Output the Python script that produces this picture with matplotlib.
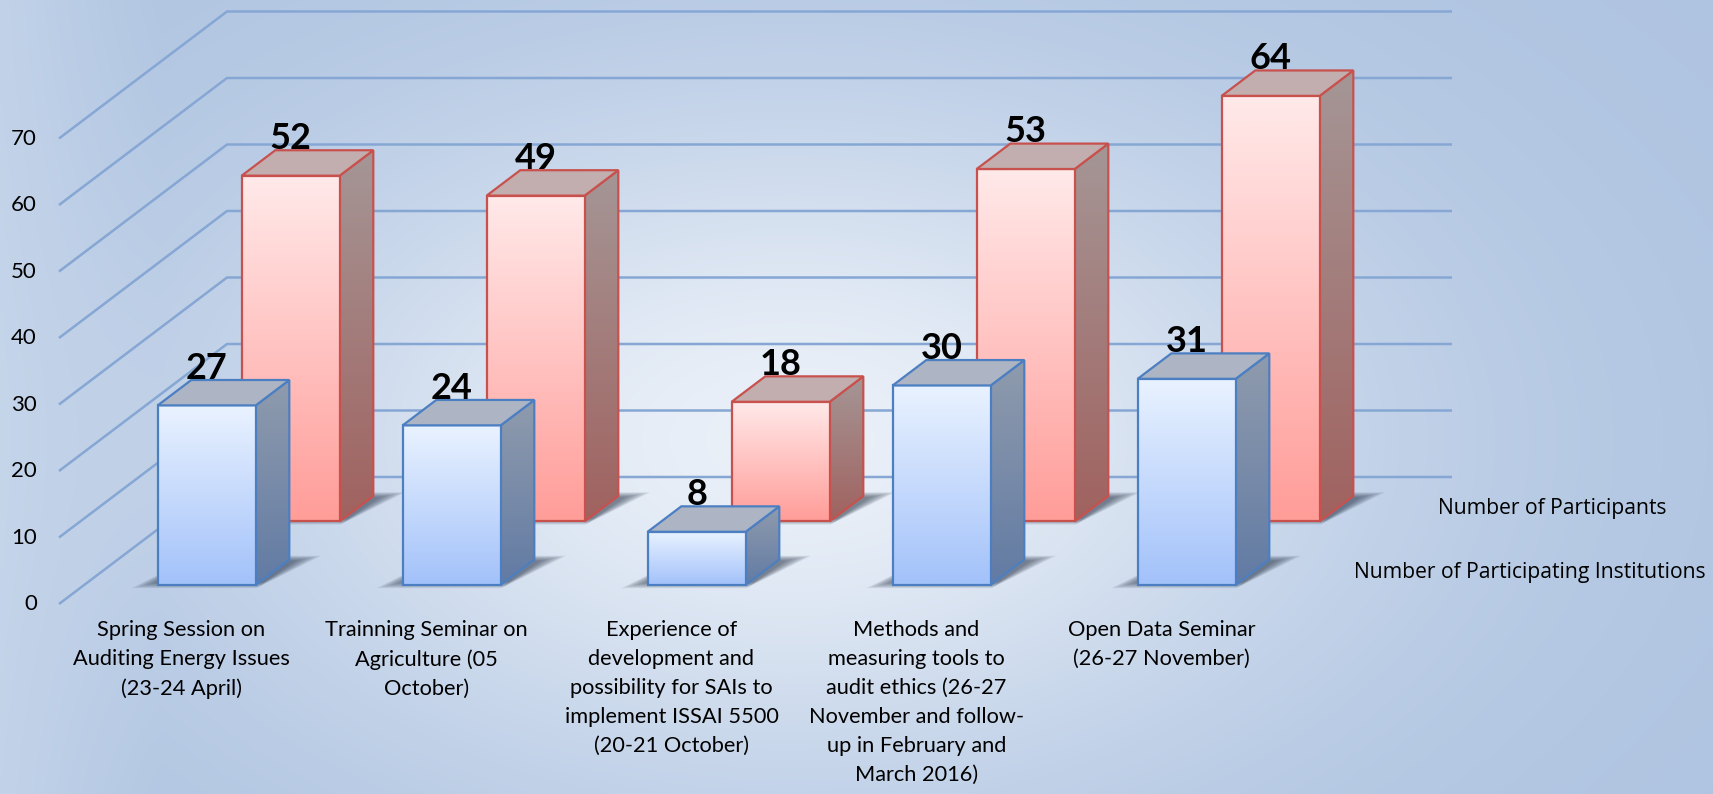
import numpy as np
import matplotlib.pyplot as plt
from matplotlib.patches import Polygon
from matplotlib.colors import to_rgb

# --- data ---
categories = [
    "Spring Session on\nAuditing Energy Issues\n(23-24 April)",
    "Trainning Seminar on\nAgriculture (05\nOctober)",
    "Experience of\ndevelopment and\npossibility for SAIs to\nimplement ISSAI 5500\n(20-21 October)",
    "Methods and\nmeasuring tools to\naudit ethics (26-27\nNovember and follow-\nup in February and\nMarch 2016)",
    "Open Data Seminar\n(26-27 November)",
]
institutions = [27, 24, 8, 30, 31]
participants = [52, 49, 18, 53, 64]
series_names = ["Number of Participating Institutions", "Number of Participants"]
y_ticks = [0, 10, 20, 30, 40, 50, 60, 70]

# --- fake 3d projection (oblique) ---
W, H = 1713, 794
X0, Y0 = 59, 604          # pixel of front-left floor corner
CAT_PX = 245              # pixels per category
VAL_PX = 6.65             # pixels per value unit
DX = 168 / CAT_PX         # depth shift in category units
DY = 127 / VAL_PX         # depth shift in value units


def proj(x, v, d):
    return (x + d * DX, v + d * DY)


fig = plt.figure(figsize=(W / 100, H / 100), dpi=100)
ax = fig.add_axes([0, 0, 1, 1])
ax.set_axis_off()
xlim = (-X0 / CAT_PX, (W - X0) / CAT_PX)
ylim = ((Y0 - H) / VAL_PX, Y0 / VAL_PX)

# background gradient
gx = np.linspace(0, W, 430)
gy = np.linspace(0, H, 200)
GX, GY = np.meshgrid(gx, gy)
base = np.array(to_rgb("#AFC4E1"))
light = np.array(to_rgb("#EAF0F8"))
t = np.exp(-((GX - 790) / 560) ** 2 - ((GY - 440) / 340) ** 2)
bg = base + t[..., None] * (light - base)
s = np.clip(1 - GX / 160, 0, 1) * 0.5
bg = bg + s[..., None] * (np.array(to_rgb("#D2DFEF")) - bg)
ax.imshow(bg, extent=[xlim[0], xlim[1], ylim[0], ylim[1]], origin="upper",
          aspect="auto", zorder=0, interpolation="bilinear")

grid_col = "#86A7D4"
ncat = len(categories)
for yv in y_ticks:
    a = proj(0, yv, 0)
    b = proj(0, yv, 1)
    c = proj(ncat, yv, 1)
    ax.plot([a[0], b[0], c[0]], [a[1], b[1], c[1]], color=grid_col, lw=1.8, zorder=1,
            solid_capstyle="butt")
    ax.text(a[0] - 22 / CAT_PX, yv, str(yv), ha="right", va="center",
            fontsize=16, family="Lato", color="black", zorder=5)


def grad_face(verts, c_top, c_bot, edge, z):
    poly = Polygon(verts, closed=True, facecolor="none", edgecolor=edge, lw=1.6,
                   joinstyle="miter", zorder=z + 0.5)
    ax.add_patch(poly)
    clip = Polygon(verts, closed=True, transform=ax.transData)
    xs = [p[0] for p in verts]
    ys = [p[1] for p in verts]
    g = np.linspace(0, 1, 64)[:, None, None]
    img = np.array(to_rgb(c_top)) * (1 - g) + np.array(to_rgb(c_bot)) * g
    im = ax.imshow(img, extent=[min(xs), max(xs), min(ys), max(ys)], origin="upper",
                   aspect="auto", zorder=z, interpolation="bilinear")
    im.set_clip_path(clip)


def shadow(x0, x1, d0, d1, z):
    # soft shadow: stacked translucent footprints, shrinking inward
    for k in range(8):
        e = 0.011 * k
        pts = [proj(x0 - 0.09 + e, 0, d0 - 0.025 + e * 0.6),
               proj(x1 + 0.02, 0, d0 - 0.025 + e * 0.6),
               proj(x1 + 0.11 - e, 0, d1 + 0.03 - e * 0.5),
               proj(x0, 0, d1 + 0.03 - e * 0.5)]
        ax.add_patch(Polygon(pts, closed=True, facecolor="#1E2A3E", edgecolor="none",
                             alpha=0.09, zorder=z))


def bar3d(i, v, d0, d1, cols, z):
    x0, x1 = i + 0.3, i + 0.7
    front_top, front_bot, side_top, side_bot, top_col, edge = cols
    shadow(x0, x1, d0, d1, z - 0.8)
    front = [proj(x0, 0, d0), proj(x1, 0, d0), proj(x1, v, d0), proj(x0, v, d0)]
    side = [proj(x1, 0, d0), proj(x1, 0, d1), proj(x1, v, d1), proj(x1, v, d0)]
    top = [proj(x0, v, d0), proj(x1, v, d0), proj(x1, v, d1), proj(x0, v, d1)]
    grad_face(side, side_top, side_bot, edge, z)
    grad_face(front, front_top, front_bot, edge, z + 1)
    ax.add_patch(Polygon(top, closed=True, facecolor=top_col, edgecolor=edge, lw=1.6,
                         joinstyle="miter", zorder=z + 1.5))
    lx, _ = proj((x0 + x1) / 2, v, d0)
    _, ly = proj(x0, v, d1)
    ax.text(lx, ly + 0.2, str(v), ha="center", va="baseline", fontsize=26,
            fontweight="bold", family="Lato", color="black", zorder=20)


red_cols = ("#FFE9E9", "#FF9D99", "#A59696", "#A0625F", "#C2AEAE", "#C8514E")
blue_cols = ("#E9F2FF", "#A3C2FA", "#8F9BAD", "#627BA4", "#ADB5C4", "#4C7FC2")

for i, v in enumerate(participants):
    bar3d(i, v, 0.65, 0.85, red_cols, 4)
for i, v in enumerate(institutions):
    bar3d(i, v, 0.15, 0.35, blue_cols, 10)

# category labels
for i, lab in enumerate(categories):
    ax.text(i + 0.5, (Y0 - 620) / VAL_PX, lab, ha="center", va="top", fontsize=15.7,
            family="Lato", linespacing=1.56, color="black", zorder=20)

# series (depth axis) labels
for name, d in zip(series_names, [0.25, 0.75]):
    px, py = proj(ncat, 0, d)
    ax.text(px + 28 / CAT_PX, py, name, ha="left", va="center", fontsize=15.2,
            family="Open Sans", color="black", zorder=20)

ax.set_xlim(xlim)
ax.set_ylim(ylim)
fig.savefig("out.png", dpi=100)
